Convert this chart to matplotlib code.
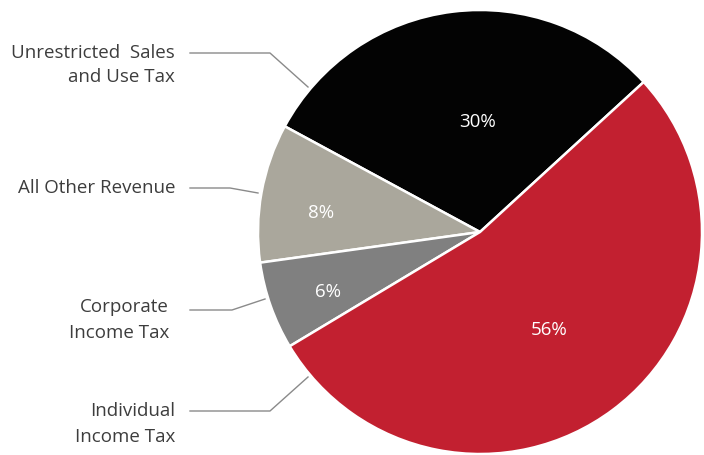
import numpy as np
import matplotlib.pyplot as plt

# slice shares, printed labels as shown
categories = ['Unrestricted  Sales\nand Use Tax', 'All Other Revenue',
              'Corporate\nIncome Tax', 'Individual\nIncome Tax']
shares = [30.3, 10.1, 6.4, 53.2]
pct_labels = ['30%', '8%', '6%', '56%']
colors = ['#030303', '#aaa79c', '#808080', '#c22030']

plt.rcParams['font.family'] = ['Open Sans', 'DejaVu Sans']

W, H = 704, 455
cx, cy, R = 480, 232, 222


def px(x, y):
    # pixel position -> data units of the pie (radius 1)
    return (x - cx) / R, (cy - y) / R


fig = plt.figure(figsize=(W / 100, H / 100), dpi=100)
ax = fig.add_axes([0, 0, 1, 1])

wedges, _ = ax.pie(shares, colors=colors, startangle=42.5, counterclock=True,
                   radius=1, wedgeprops=dict(edgecolor='white', linewidth=1.8))

# pie() forces equal aspect and its own limits: put the pixel frame back
ax.set_aspect('auto')
ax.set_xlim(px(0, 0)[0], px(W, 0)[0])
ax.set_ylim(px(0, H)[1], px(0, 0)[1])
ax.axis('off')

# percentage labels inside slices (angle in degrees, distance from centre)
pct_place = [(91.5, 0.505), (172.5, 0.72), (201.0, 0.735), (-54.3, 0.535)]
for lab, (ang, d) in zip(pct_labels, pct_place):
    a = np.radians(ang)
    ax.text(d * np.cos(a), d * np.sin(a), lab, color='white',
            fontsize=13.5, ha='center', va='center_baseline')

# category labels with leader lines (pixel layout)
text_pos = [(175, 65), (175, 188), (169, 320), (175, 424)]
leaders = [[(190, 53), (270, 53), (308, 87)],
           [(190, 188), (230, 188), (258, 193)],
           [(190, 310), (232, 310), (265, 299)],
           [(190, 411), (270, 411), (308, 377)]]
for cat, (tx, ty), pts in zip(categories, text_pos, leaders):
    x, y = px(tx, ty)
    ax.text(x, y, cat, color='#3d3d3d', fontsize=13.5, ha='right',
            va='center', linespacing=1.5)
    xs, ys = zip(*[px(a, b) for a, b in pts])
    ax.plot(xs, ys, color='#8a8a8a', linewidth=1.0)

fig.savefig('out.png', dpi=100)
